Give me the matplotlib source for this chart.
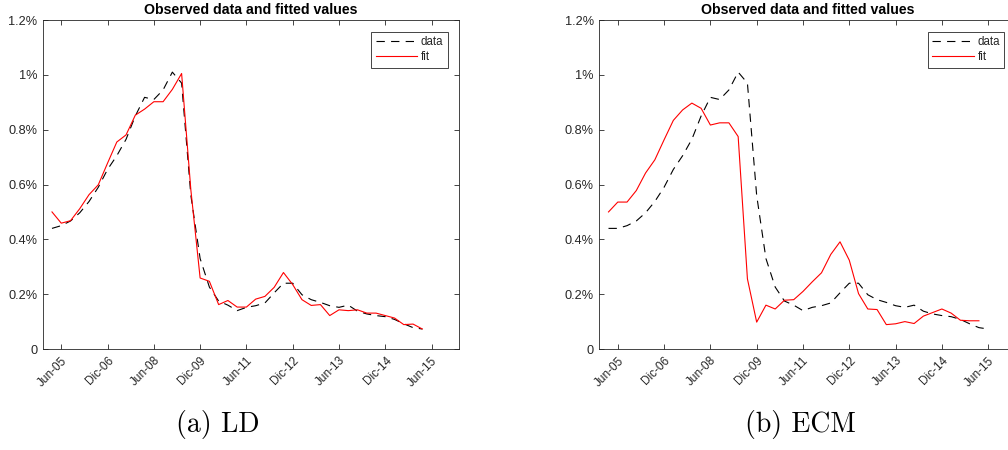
import numpy as np
import matplotlib
matplotlib.use("Agg")
import matplotlib.pyplot as plt

plt.rcParams['font.family'] = ['Liberation Sans', 'DejaVu Sans']
plt.rcParams['lines.scale_dashes'] = False

# quarterly series, values in percent
ld_data = [0.44, 0.45, 0.467, 0.497, 0.538, 0.59, 0.655, 0.705, 0.765, 0.85,
           0.918, 0.91, 0.945, 1.01, 0.97, 0.56, 0.33, 0.226, 0.175, 0.16,
           0.14, 0.152, 0.158, 0.168, 0.205, 0.24, 0.24, 0.198, 0.18, 0.17,
           0.158, 0.152, 0.16, 0.138, 0.128, 0.122, 0.118, 0.108, 0.092, 0.078,
           0.073]
ld_fit = [0.50, 0.459, 0.468, 0.512, 0.563, 0.599, 0.678, 0.755, 0.781, 0.853,
          0.875, 0.902, 0.902, 0.947, 1.005, 0.58, 0.259, 0.247, 0.162, 0.177,
          0.153, 0.153, 0.182, 0.192, 0.225, 0.279, 0.235, 0.18, 0.159, 0.162,
          0.122, 0.143, 0.14, 0.143, 0.131, 0.131, 0.122, 0.113, 0.089, 0.091,
          0.073]

ecm_data = [0.44, 0.44, 0.45, 0.467, 0.497, 0.538, 0.59, 0.655, 0.705, 0.765,
            0.85, 0.918, 0.91, 0.945, 1.01, 0.97, 0.56, 0.33, 0.226, 0.175,
            0.16, 0.14, 0.152, 0.158, 0.168, 0.205, 0.24, 0.24, 0.198, 0.18,
            0.17, 0.158, 0.152, 0.16, 0.138, 0.128, 0.122, 0.118, 0.108, 0.092,
            0.078, 0.073]
ecm_fit = [0.50, 0.536, 0.536, 0.578, 0.642, 0.69, 0.763, 0.834, 0.872, 0.897,
           0.878, 0.817, 0.825, 0.825, 0.775, 0.256, 0.098, 0.16, 0.146, 0.178,
           0.18, 0.21, 0.245, 0.278, 0.345, 0.391, 0.324, 0.202, 0.146, 0.144,
           0.089, 0.092, 0.10, 0.093, 0.12, 0.133, 0.146, 0.131, 0.105, 0.103,
           0.103]

tick_pos = [1, 6, 11, 16, 21, 26, 31, 36, 41]
tick_labels = ['Jun-05', 'Dic-06', 'Jun-08', 'Dic-09', 'Jun-11', 'Dic-12',
               'Jun-13', 'Dic-14', 'Jun-15']
y_ticks = [0, 0.2, 0.4, 0.6, 0.8, 1.0, 1.2]
y_labels = ['0', '0.2%', '0.4%', '0.6%', '0.8%', '1%', '1.2%']

axcol = '#262626'

fig = plt.figure(figsize=(10.08, 4.5), dpi=100)


def panel(rect, data, fit):
    ax = fig.add_axes(rect)
    ax.plot(np.arange(len(data)), data, color='black', lw=0.8,
            dashes=(6, 4.5), label='data')
    ax.plot(np.arange(len(fit)), fit, color='#ff0000', lw=0.8, label='fit')
    ax.set_xlim(-1, 44)
    ax.set_ylim(0, 1.2)
    ax.set_xticks(tick_pos)
    ax.set_xticklabels(tick_labels, rotation=45, ha='right', va='top',
                       rotation_mode='anchor', fontsize=8.5)
    ax.set_yticks(y_ticks)
    ax.set_yticklabels(y_labels, fontsize=9.2)
    ax.tick_params(direction='in', top=True, right=True, length=3.5,
                   width=0.6, colors=axcol, pad=4)
    for s in ax.spines.values():
        s.set_color(axcol)
        s.set_linewidth(0.6)
    ax.set_title('Observed data and fitted values', fontsize=10.2,
                 fontweight='bold', pad=4.5, color='black')
    leg = ax.legend(loc='upper right', bbox_to_anchor=(0.972, 0.965),
                    fontsize=8.3, handlelength=3.6, handletextpad=0.3,
                    borderpad=0.38, labelspacing=0.28, fancybox=False,
                    framealpha=1, edgecolor=axcol, borderaxespad=0)
    leg.get_frame().set_linewidth(0.6)
    for t in leg.get_texts():
        t.set_color(axcol)
    return ax


panel([0.0424, 0.2244, 0.4133, 0.7311], ld_data, ld_fit)
panel([0.5945, 0.2244, 0.4134, 0.7311], ecm_data, ecm_fit)

fig.text(0.216, 0.056, '(a) LD', family='cmr10', fontsize=20,
         ha='center', va='center')
fig.text(0.794, 0.056, '(b) ECM', family='cmr10', fontsize=20,
         ha='center', va='center')

fig.savefig('out.png', dpi=100)
